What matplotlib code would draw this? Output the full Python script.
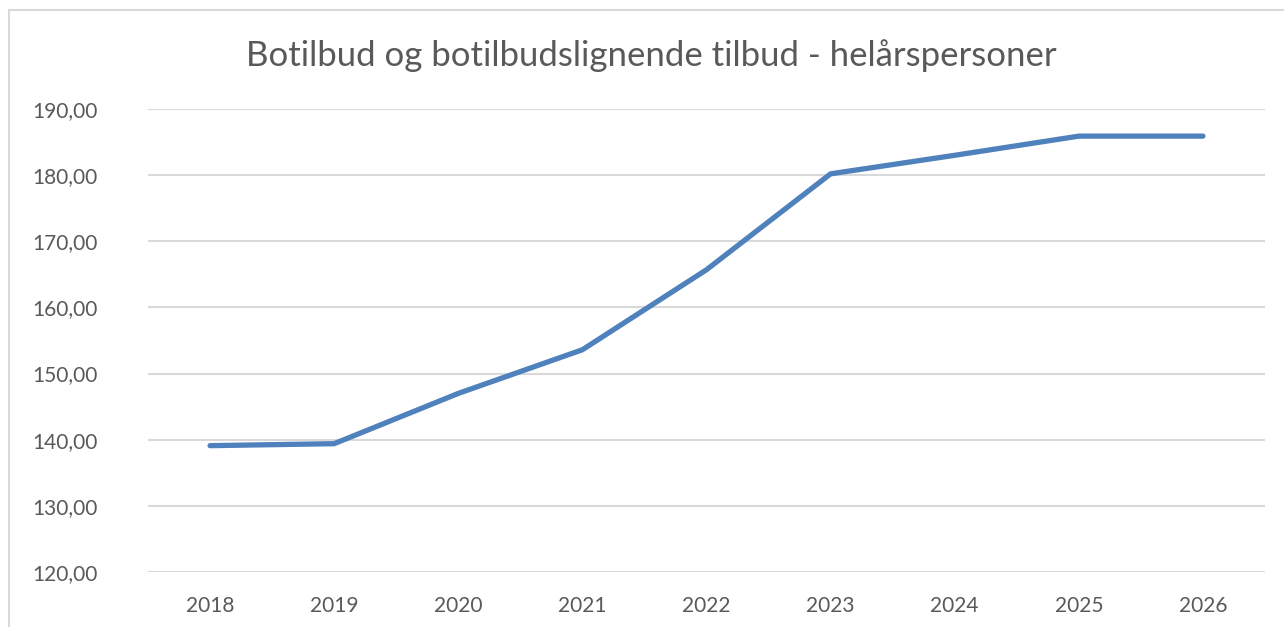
import matplotlib
matplotlib.use("Agg")
import matplotlib.pyplot as plt
from matplotlib.patches import Rectangle

years = ["2018", "2019", "2020", "2021", "2022", "2023", "2024", "2025", "2026"]
values = [139.1, 139.4, 147.0, 153.6, 165.7, 180.2, 183.0, 185.9, 185.9]
yticks = [120, 130, 140, 150, 160, 170, 180, 190]
title = "Botilbud og botilbudslignende tilbud - helårspersoner"

plt.rcParams['font.family'] = ['Lato', 'DejaVu Sans']
W, H = 1284, 627
fig = plt.figure(figsize=(W/100, H/100), dpi=100)
fig.patch.set_facecolor('white')

fig.add_artist(Rectangle((9/W, -0.1), 1.2, 1 - 10/H + 0.1, transform=fig.transFigure,
                         facecolor='none', edgecolor='#d9d9d9', linewidth=1.5))

ax = fig.add_axes([148/W, 1 - 572/H, (1265-148)/W, (572-109)/H])
x = list(range(len(years)))
ax.plot(x, values, color='#4f81bd', linewidth=3.8, solid_capstyle='round', solid_joinstyle='round', zorder=3)
ax.set_xlim(-0.5, len(years) - 0.5)
ax.set_ylim(120, 190)
ax.set_yticks(yticks)
ax.set_yticklabels([f"{v:.2f}".replace('.', ',') for v in yticks])
ax.set_xticks(x)
ax.set_xticklabels(years)
ax.grid(axis='y', color='#d9d9d9', linewidth=1.5)
ax.set_axisbelow(True)
for s in ax.spines.values():
    s.set_visible(False)
ax.tick_params(length=0, labelsize=15, colors='#595959')
ax.tick_params(axis='y', pad=36)
ax.tick_params(axis='x', pad=17)

fig.text((248+1055)/2/W, 1 - 56/H, title, ha='center', va='center', fontsize=25, color='#595959')

fig.savefig('out.png', dpi=100)
